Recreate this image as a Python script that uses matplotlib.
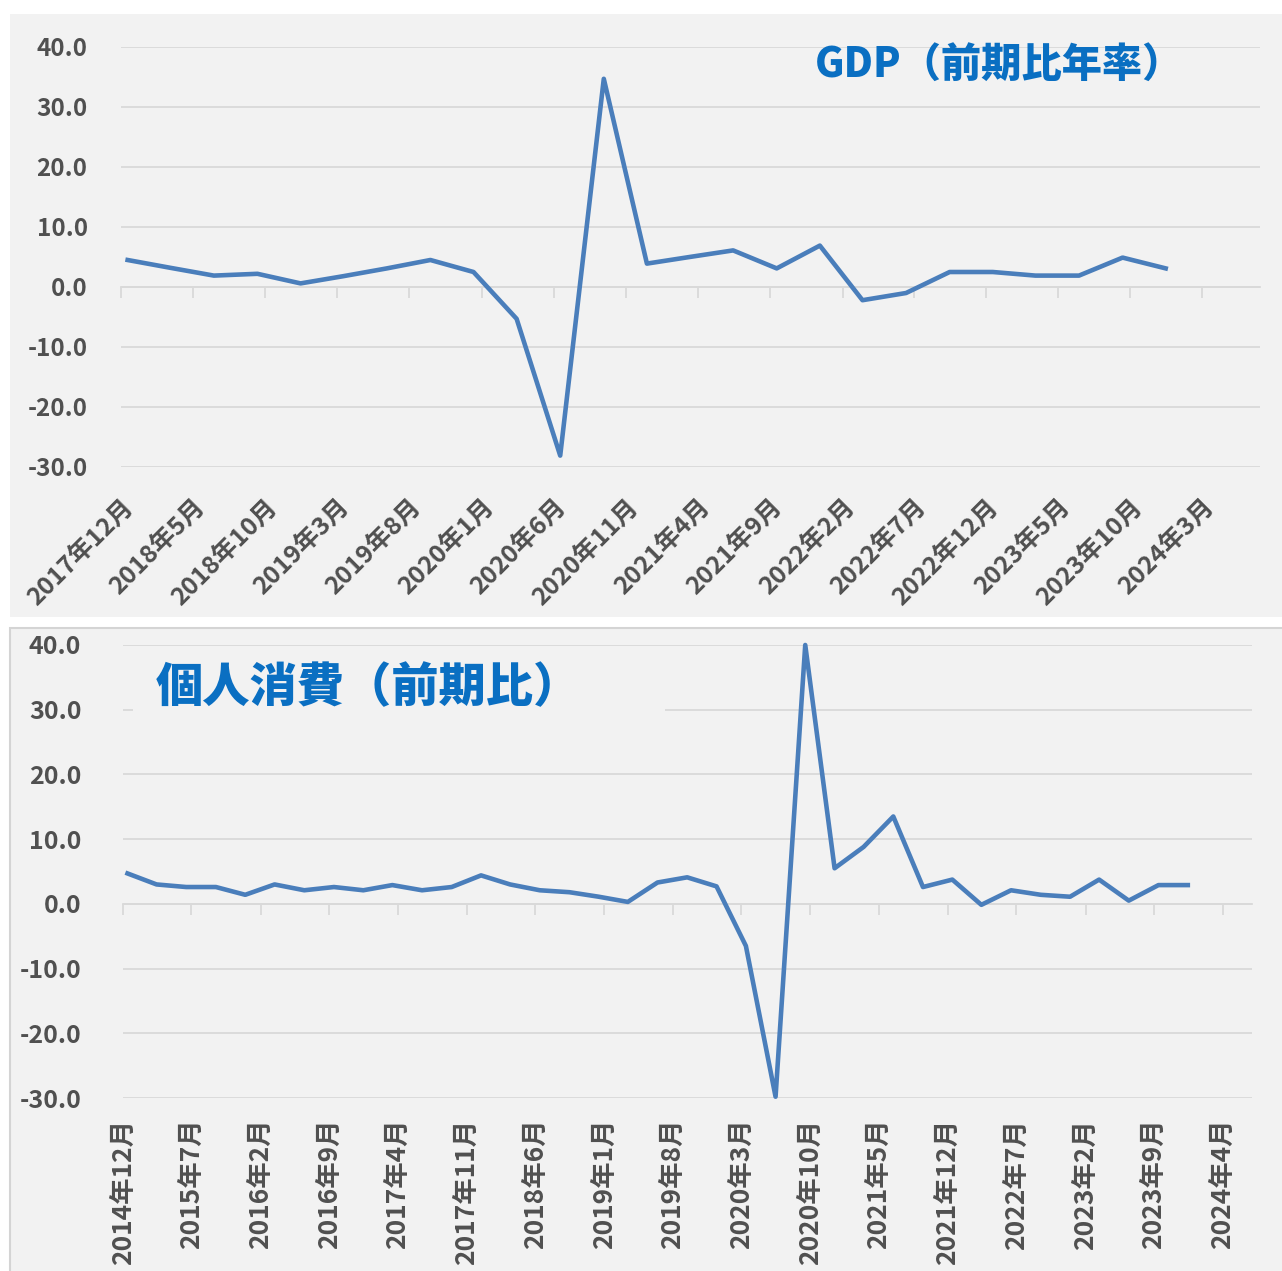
import numpy as np
import pandas as pd
import matplotlib
matplotlib.use("Agg")
import matplotlib.pyplot as plt
from matplotlib.patches import Rectangle

plt.rcParams['font.family'] = ['Noto Sans CJK JP', 'DejaVu Sans']

# GDP, annualised q/q (%), quarterly 2017-12 .. 2023-12
gdp_dates = pd.date_range("2017-12-01", periods=25, freq="3MS") + pd.Timedelta(days=14)
gdp_values = [4.5, 3.2, 1.9, 2.2, 0.6, 1.8, 3.1, 4.5, 2.5, -5.3, -28.1, 34.7, 3.9,
              5.0, 6.1, 3.1, 6.9, -2.2, -1.0, 2.5, 2.5, 1.9, 1.9, 4.9, 3.1]

# private consumption, q/q (%), quarterly 2014-12 .. 2023-12
cons_dates = pd.date_range("2014-12-01", periods=37, freq="3MS") + pd.Timedelta(days=14)
cons_values = [4.7, 3.0, 2.6, 2.6, 1.4, 3.0, 2.1, 2.6, 2.1, 2.9, 2.1, 2.6, 4.4,
               3.0, 2.1, 1.8, 1.1, 0.3, 3.3, 4.1, 2.7, -6.5, -29.8, 40.0, 5.5,
               8.8, 13.5, 2.6, 3.75, -0.15, 2.1, 1.4, 1.1, 3.75, 0.5, 2.9, 2.9]

gdp_ticks = pd.date_range("2017-12-01", "2024-03-01", freq="5MS")
cons_ticks = pd.date_range("2014-12-01", "2024-04-01", freq="7MS")
x_end = pd.Timestamp("2024-07-01")

W, H = 1282, 1271
fig = plt.figure(figsize=(W / 100, H / 100), dpi=100, facecolor="white")

# panel backgrounds
bg1 = Rectangle((10 / W, 1 - 617 / H), 1.1, 603 / H, transform=fig.transFigure,
                facecolor="#f2f2f2", edgecolor="none", zorder=-5)
bg2 = Rectangle((10 / W, -0.1), 1.1, 0.1 + 643 / H, transform=fig.transFigure,
                facecolor="#f2f2f2", edgecolor="#d4d4d4", linewidth=1.5, zorder=-5)
fig.patches.extend([bg1, bg2])

line_col = "#4a7ebb"
grid_col = "#d9d9d9"
lab_col = "#505050"
title_col = "#0a6fc2"


def style_axes(ax, ticks, rot, lab_size, ylab_size, lab_pad, ypad):
    ax.set_facecolor("none")
    ax.set_ylim(-30, 40)
    ax.set_yticks(np.arange(-30, 41, 10))
    ax.yaxis.set_major_formatter(matplotlib.ticker.FormatStrFormatter("%.1f"))
    ax.grid(axis="y", color=grid_col, linewidth=1.3)
    ax.set_axisbelow(True)
    for s in ["top", "right", "left"]:
        ax.spines[s].set_visible(False)
    ax.spines["bottom"].set_position(("data", 0))
    ax.spines["bottom"].set_color(grid_col)
    ax.spines["bottom"].set_linewidth(1.3)
    ax.tick_params(axis="y", length=0, pad=ypad, labelsize=ylab_size, labelcolor=lab_col)
    for t in ax.get_yticklabels():
        t.set_fontweight("bold")
    ax.set_xticks(ticks)
    ax.tick_params(axis="x", direction="out", length=8, width=1.3, color=grid_col,
                   labelbottom=False)
    sec = ax.secondary_xaxis(-30, transform=ax.transData)
    sec.set_xticks(ticks)
    sec.set_xticklabels([f"{d.year}年{d.month}月" for d in ticks])
    sec.spines["bottom"].set_visible(False)
    sec.tick_params(length=0, pad=lab_pad, labelsize=lab_size, labelcolor=lab_col)
    for t in sec.get_xticklabels():
        t.set_fontweight("bold")
        if rot == 45:
            t.set_rotation(45)
            t.set_ha("right")
            t.set_va("top")
            t.set_rotation_mode("anchor")
        else:
            t.set_rotation(90)
            t.set_ha("center")
            t.set_va("top")


# top: GDP
ax1 = fig.add_axes([121 / W, 1 - 467 / H, 1139 / W, 420 / H])
ax1.plot(gdp_dates, gdp_values, color=line_col, linewidth=3.3, zorder=3)
ax1.set_xlim(pd.Timestamp("2017-12-01"), x_end)
style_axes(ax1, gdp_ticks, 45, 18, 17.5, 20, 24)
ax1.text(0.771, 0.957, "GDP（前期比年率）", transform=ax1.transAxes, ha="center",
         va="center", fontsize=29, fontweight="heavy", color=title_col, zorder=5)

# bottom: private consumption
ax2 = fig.add_axes([123 / W, 1 - 1098 / H, 1129 / W, 453 / H])
ax2.plot(cons_dates, cons_values, color=line_col, linewidth=3.3, zorder=3,
         clip_on=False)
ax2.set_xlim(pd.Timestamp("2014-12-01"), x_end)
style_axes(ax2, cons_ticks, 90, 19, 18, 15, 30)
ax2.add_patch(Rectangle((0.009, 0.83), 0.471, 0.13, transform=ax2.transAxes,
                        facecolor="#f2f2f2", edgecolor="none", zorder=2.5))
ax2.text(0.2176, 0.905, "個人消費（前期比）", transform=ax2.transAxes, ha="center",
         va="center", fontsize=34, fontweight="heavy", color=title_col, zorder=5)

fig.savefig("out.png", dpi=100, facecolor="white")
